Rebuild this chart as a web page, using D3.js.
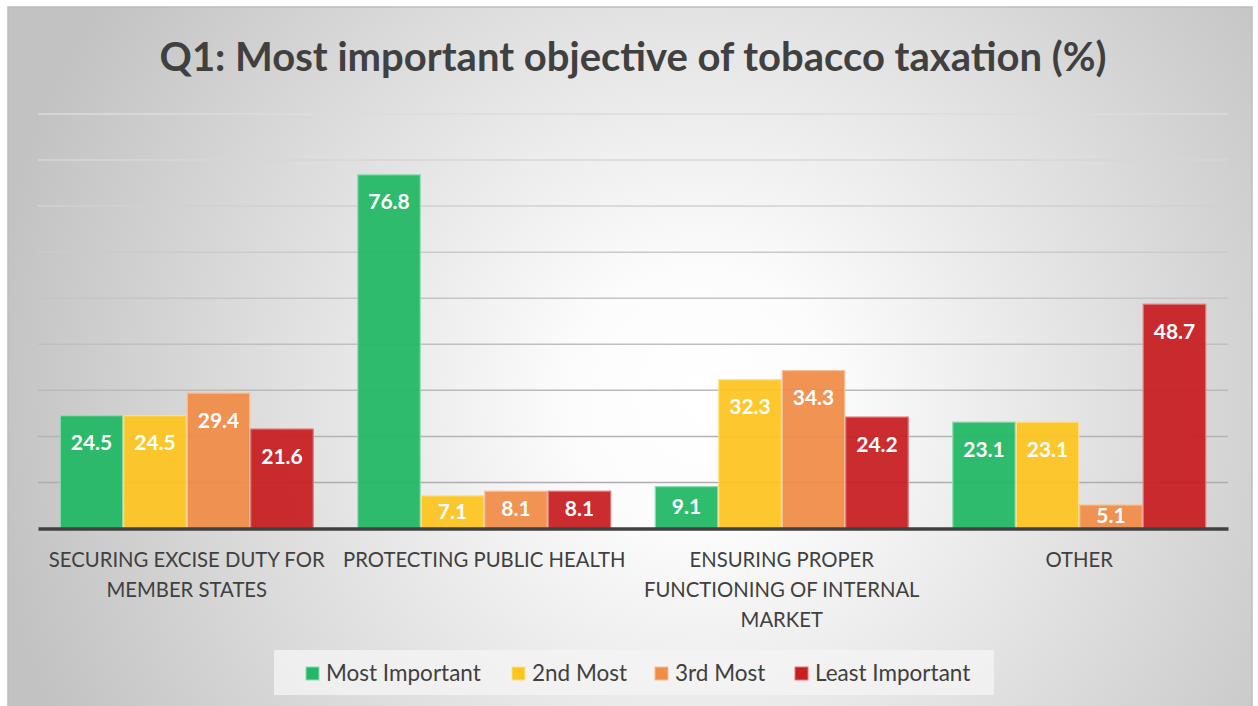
<!DOCTYPE html>
<html>
<head>
<meta charset="utf-8">
<script src="https://cdn.jsdelivr.net/npm/d3@7/dist/d3.min.js"></script>
<style>
  html, body { margin: 0; padding: 0; background: #ffffff; }
  svg { display: block; }
  text { font-family: Lato, "Open Sans", sans-serif; }
</style>
</head>
<body>
<svg id="chart" width="1258" height="706"></svg>
<script>
// Survey results: share of respondents (%) per objective and ranking
const categories = [
  "SECURING EXCISE DUTY FOR MEMBER STATES",
  "PROTECTING PUBLIC HEALTH",
  "ENSURING PROPER FUNCTIONING OF INTERNAL MARKET",
  "OTHER"
];
const seriesNames = ["Most Important", "2nd Most", "3rd Most", "Least Important"];
const mostImportant = [24.5, 76.8, 9.1, 23.1];
const secondMost = [24.5, 7.1, 32.3, 23.1];
const thirdMost = [29.4, 8.1, 34.3, 5.1];
const leastImportant = [21.6, 8.1, 24.2, 48.7];
const yTicks = [10, 20, 30, 40, 50, 60, 70, 80, 90];
const seriesColors = ["#22b866", "#fdc520", "#ef8c48", "#c71f22"];
const seriesStroke = ["#8fdcb0", "#fde08a", "#f6c09a", "#e07a7c"];

const seriesValues = [mostImportant, secondMost, thirdMost, leastImportant];
const rows = categories.map((c, i) => ({
  category: c,
  values: seriesNames.map((s, j) => ({ series: s, idx: j, value: seriesValues[j][i] }))
}));

const svg = d3.select("#chart");
const frame = { x: 8, y: 7, w: 1244, h: 702 };
const plot = { left: 38, right: 1228, top: 114, bottom: 528.5 };

const defs = svg.append("defs");
const bg = defs.append("radialGradient").attr("id", "bgGrad")
  .attr("gradientUnits", "userSpaceOnUse")
  .attr("cx", 700).attr("cy", 400).attr("r", 720);
bg.append("stop").attr("offset", "0%").attr("stop-color", "#ffffff");
bg.append("stop").attr("offset", "18%").attr("stop-color", "#fcfcfc");
bg.append("stop").attr("offset", "100%").attr("stop-color", "#c2c2c2");

const gridGrad = defs.append("linearGradient").attr("id", "gridGrad")
  .attr("gradientUnits", "userSpaceOnUse")
  .attr("x1", 0).attr("x2", 0).attr("y1", plot.top).attr("y2", plot.bottom);
gridGrad.append("stop").attr("offset", "0%").attr("stop-color", "#dcdcdc");
gridGrad.append("stop").attr("offset", "100%").attr("stop-color", "#a8a8a8");

// chart area
svg.append("rect")
  .attr("x", frame.x).attr("y", frame.y)
  .attr("width", frame.w).attr("height", frame.h)
  .attr("fill", "url(#bgGrad)")
  .attr("stroke", "#bdbdbd").attr("stroke-width", 1.5);

// title
svg.append("text")
  .attr("x", 633).attr("y", 71)
  .attr("text-anchor", "middle")
  .attr("font-size", 40).attr("font-weight", 700)
  .attr("fill", "#404040")
  .text("Q1: Most important objective of tobacco taxation (%)");

// scales
const y = d3.scaleLinear().domain([0, 90]).range([plot.bottom, plot.top]);
const x0 = d3.scaleBand().domain(categories).range([plot.left, plot.right]).paddingInner(0).paddingOuter(0);
const x1 = d3.scaleBand().domain(seriesNames).range([0, x0.bandwidth()]).paddingInner(0).paddingOuter(0.343);

// gridlines
svg.append("g").selectAll("line").data(yTicks).join("line")
  .attr("x1", plot.left).attr("x2", plot.right)
  .attr("y1", d => y(d)).attr("y2", d => y(d))
  .attr("stroke", "url(#gridGrad)").attr("stroke-width", 1.5);

// bars
const groups = svg.append("g").selectAll("g").data(rows).join("g")
  .attr("transform", d => `translate(${x0(d.category)},0)`);

groups.selectAll("rect").data(d => d.values).join("rect")
  .attr("x", d => x1(d.series) + 0.5)
  .attr("width", x1.bandwidth() - 1)
  .attr("y", d => y(d.value))
  .attr("height", d => y(0) - y(d.value))
  .attr("fill", d => seriesColors[d.idx])
  .attr("fill-opacity", 0.94)
  .attr("stroke", d => seriesStroke[d.idx])
  .attr("stroke-width", 1.2);

// value labels inside the bar end
groups.selectAll("text").data(d => d.values).join("text")
  .attr("x", d => x1(d.series) + x1.bandwidth() / 2)
  .attr("y", d => {
    const top = y(d.value);
    const mid = (top + y(0)) / 2;
    return Math.min(top + 27, mid - 1) + 7.5;
  })
  .attr("text-anchor", "middle")
  .attr("font-size", 21).attr("font-weight", 700)
  .attr("fill", "#ffffff")
  .text(d => d.value.toFixed(1));

// zero axis
svg.append("g")
  .attr("transform", `translate(0,${plot.bottom})`)
  .call(d3.axisBottom(x0).tickSize(0).tickFormat(""))
  .call(g => g.select(".domain").attr("stroke", "#404040").attr("stroke-width", 3.5));

// category labels, wrapped to the band width
const labelSize = 20.3;
const wrapWidth = x0.bandwidth() - 4;
const measure = svg.append("text").attr("font-size", labelSize).attr("visibility", "hidden");
function wrapWords(str) {
  const words = str.split(" ");
  const lines = [];
  let cur = "";
  words.forEach(w => {
    const test = cur ? cur + " " + w : w;
    measure.text(test);
    if (measure.node().getComputedTextLength() > wrapWidth && cur) {
      lines.push(cur);
      cur = w;
    } else cur = test;
  });
  if (cur) lines.push(cur);
  return lines;
}
const catLabels = svg.append("g");
categories.forEach(c => {
  const lines = wrapWords(c);
  const t = catLabels.append("text")
    .attr("text-anchor", "middle")
    .attr("font-size", labelSize)
    .attr("fill", "#404040");
  lines.forEach((ln, i) => {
    t.append("tspan")
      .attr("x", x0(c) + x0.bandwidth() / 2)
      .attr("y", 567 + i * 30)
      .text(ln);
  });
});
measure.remove();

// legend
const legend = svg.append("g");
legend.append("rect")
  .attr("x", 274).attr("y", 650).attr("width", 720).attr("height", 45)
  .attr("fill", "#f4f4f4").attr("fill-opacity", 0.8);
const legendX = [306, 512, 655, 795];
seriesNames.forEach((s, i) => {
  legend.append("rect")
    .attr("x", legendX[i]).attr("y", 667)
    .attr("width", 13).attr("height", 13)
    .attr("fill", seriesColors[i])
    .attr("stroke", seriesStroke[i]).attr("stroke-width", 1);
  legend.append("text")
    .attr("x", legendX[i] + 20).attr("y", 681)
    .attr("font-size", 22.5)
    .attr("fill", "#404040")
    .text(s);
});
</script>
</body>
</html>
